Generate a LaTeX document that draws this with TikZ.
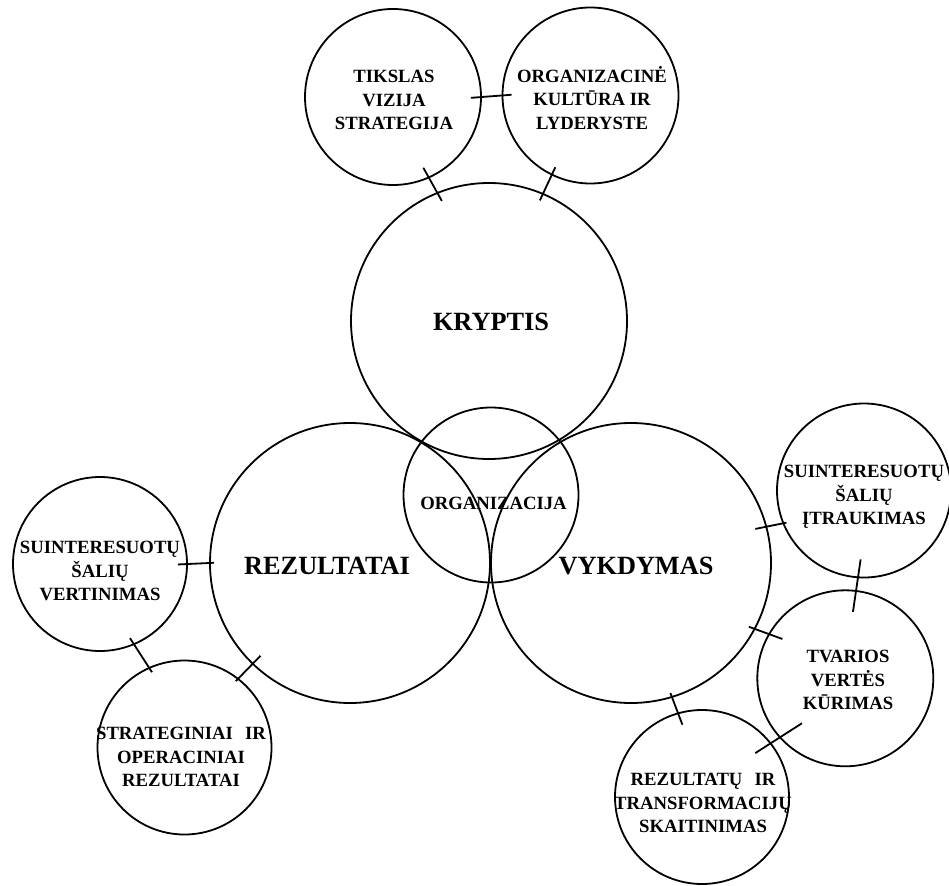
\documentclass[tikz,border=0pt]{standalone}
\usepackage{fontspec}
\setmainfont{Liberation Serif}[BoldFont={Liberation Serif Bold}]
\usetikzlibrary{calc}

\tikzset{
  bubble/.style={circle, draw, line width=1.8pt, inner sep=0pt, minimum size=#1},
  biglabel/.style={font=\fontsize{26.3}{30}\selectfont\bfseries, inner sep=0pt},
  smalllabel/.style={font=\fontsize{18.7}{23.7}\selectfont\bfseries, align=center, inner sep=0pt},
  tick/.style={line width=1.8pt, line cap=butt}
}

% short crossing stroke between two circles:
% #1 node, #2 its border angle, #3 overshoot, #4 node, #5 its border angle, #6 overshoot
\newcommand{\tie}[6]{%
  \draw[tick] ($(#1.#2)!-#3!(#4.#5)$) -- ($(#4.#5)!-#6!(#1.#2)$);}

\begin{document}
\begin{tikzpicture}[x=1pt, y=-1pt]
  \useasboundingbox (0,0) rectangle (949,885);

  % central circles
  \node[bubble=276pt] (kry)  at (489,321) {};
  \node[bubble=175pt] (orgz) at (491,495) {};
  \node[bubble=280pt] (rez)  at (350,563) {};
  \node[bubble=280pt] (vyk)  at (631,563) {};

  % outer circles
  \node[bubble=176pt] (tik) at (393,97) {};
  \node[bubble=176pt] (org) at (590.5,95.5) {};
  \node[bubble=174pt] (sv)  at (100,564) {};
  \node[bubble=174pt] (str) at (184.5,747.5) {};
  \node[bubble=174pt] (itr) at (864,490.5) {};
  \node[bubble=176pt] (tva) at (845.3,678.3) {};
  \node[bubble=174pt] (rzt) at (702,797) {};

  % labels
  \node[biglabel] (kryT) at (491,322) {KRYPTIS};
  \node[biglabel] (rezT) at (327,566) {REZULTATAI};
  \node[biglabel] (vykT) at (636,566) {VYKDYMAS};
  \node[smalllabel] (orgzT) at (493.5,503) {ORGANIZACIJA};

  \node[smalllabel] (tikT) at (394,100) {TIKSLAS\\VIZIJA\\STRATEGIJA};
  \node[smalllabel] (orgT) at (592,98) {ORGANIZACINĖ\\KULTŪRA IR\\LYDERYSTE};
  \node[smalllabel] (svT)  at (100,571) {SUINTERESUOTŲ\\ŠALIŲ\\VERTINIMAS};
  \node[smalllabel] (strT) at (181,757) {STRATEGINIAI\hspace{0.4em} IR\\OPERACINIAI\\REZULTATAI};
  \node[smalllabel] (itrT) at (864,497) {SUINTERESUOTŲ\\ŠALIŲ\\ĮTRAUKIMAS};
  \node[smalllabel] (tvaT) at (848,680) {TVARIOS\\VERTĖS\\KŪRIMAS};
  \node[smalllabel] (rztT) at (703,803) {REZULTATŲ\hspace{0.4em} IR\\TRANSFORMACIJŲ\\SKAITINIMAS};

  % crossing strokes
  \tie{tik}{0}{11pt}{org}{180}{10pt}
  \tie{tik}{-66}{12pt}{kry}{112}{10pt}
  \tie{org}{-116}{9pt}{kry}{67}{8pt}
  \tie{sv}{0}{10pt}{rez}{180}{5pt}
  \tie{sv}{-67}{8pt}{str}{114}{6pt}
  \tie{str}{52}{4pt}{rez}{-134}{12pt}
  \tie{vyk}{15}{12pt}{itr}{-158}{4pt}
  \tie{itr}{-94}{19pt}{tva}{83}{22pt}
  \tie{vyk}{-28}{7pt}{tva}{150}{15pt}
  \tie{vyk}{-73}{5pt}{rzt}{106}{13pt}
  \tie{tva}{-138}{27pt}{rzt}{38}{19pt}
\end{tikzpicture}
\end{document}
